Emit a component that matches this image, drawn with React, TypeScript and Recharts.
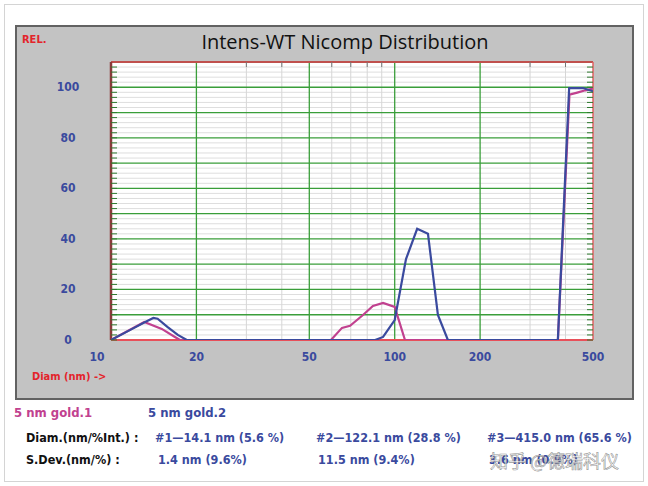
import { LineChart, Line, XAxis, YAxis, ReferenceLine, ReferenceArea } from "recharts";

// 5 nm gold.1 (magenta) — diameter (nm) / relative intensity
const gold1Diam = [10, 13.1, 15.1, 16.8, 17.5, 59.6, 65.2, 69.6, 77.3, 83.8, 91, 100, 108.7, 376, 413, 440, 470, 500];
const gold1Int = [0, 7.1, 4.4, 1.2, 0, 0, 4.8, 5.6, 9.9, 13.5, 14.7, 13.1, 0, 0, 97.1, 97.9, 98.8, 99.5];

// 5 nm gold.2 (blue)
const gold2Diam = [10, 11.7, 13.2, 14.1, 14.6, 15.8, 17.2, 18.5, 85.3, 91, 100, 109.6, 120, 131, 142, 154, 376, 412, 461, 500];
const gold2Int = [0, 4, 7.1, 8.7, 8.4, 5.2, 2, 0, 0, 1.2, 7.9, 32, 44, 42, 9.9, 0, 0, 99.7, 99.7, 98.4];

const xTicks = [10, 20, 30, 40, 50, 60, 70, 80, 90, 100, 200, 300, 400, 500];
const xLabels = [10, 20, 50, 100, 200, 500];
const xMajor = [20, 50, 100, 200];
const xMinor = [30, 40, 60, 70, 80, 90, 300, 400];
const yTicks = [0, 2, 4, 6, 8, 10, 12, 14, 16, 18, 20, 22, 24, 26, 28, 30, 32, 34, 36, 38, 40, 42, 44, 46, 48, 50, 52, 54, 56, 58, 60, 62, 64, 66, 68, 70, 72, 74, 76, 78, 80, 82, 84, 86, 88, 90, 92, 94, 96, 98, 100, 102, 104, 106, 108];
const yLabels = [0, 20, 40, 60, 80, 100];
const yMajor = [10, 20, 30, 40, 50, 60, 70, 80, 90, 100];

const sampleNames = ["5 nm gold.1", "5 nm gold.2"];
const diamRow = ["#1—14.1 nm (5.6 %)", "#2—122.1 nm (28.8 %)", "#3—415.0 nm (65.6 %)"];
const sdevRow = ["1.4 nm (9.6%)", "11.5 nm (9.4%)", "3.6 nm (0.9%)"];

const gold1 = gold1Diam.map((d, i) => ({ d, v: gold1Int[i] }));
const gold2 = gold2Diam.map((d, i) => ({ d, v: gold2Int[i] }));

const L = 111;
const R = 593;
const T = 62;
const B = 340;

const BLUE = "#3a4a9e";
const PINK = "#c1418f";
const RED = "#e3242b";
const GREEN = "#3a9e3a";
const narrow = "'Liberation Sans Narrow', 'DejaVu Sans Condensed', Arial, sans-serif";

function YTick(props: any) {
  const { y, payload } = props;
  const v = payload.value;
  return (
    <g>
      <line x1={L} x2={L + 6} y1={y} y2={y} stroke="#2f7a2f" strokeWidth={1} />
      <line x1={R - 6} x2={R} y1={y} y2={y} stroke="#2f7a2f" strokeWidth={1} />
      {yLabels.includes(v) && (
        <text x={68} y={y + 4} textAnchor="middle" fill={BLUE} fontFamily={narrow} fontWeight="bold" fontSize={12}>
          {v}
        </text>
      )}
    </g>
  );
}

function XTick(props: any) {
  const { x, payload } = props;
  const v = payload.value;
  return (
    <g>
      {xMinor.includes(v) && <line x1={x} x2={x} y1={T} y2={T + 5} stroke="#777" strokeWidth={1} />}
      {xLabels.includes(v) && (
        <text x={v === 10 ? x - 14 : x} y={B + 21} textAnchor="middle" fill={BLUE} fontFamily={narrow} fontWeight="bold" fontSize={12}>
          {v}
        </text>
      )}
    </g>
  );
}

const rowText = { position: "absolute" as const, fontFamily: narrow, fontWeight: "bold", fontSize: 12.5 };

export default function App() {
  return (
    <div style={{ position: "relative", width: 648, height: 486, background: "#fff", overflow: "hidden" }}>
      <style>{"body{margin:0}"}</style>
      <div style={{ position: "absolute", left: 4, top: 4, width: 638, height: 476, border: "1px solid #d4d4d4" }} />
      <div
        style={{
          position: "absolute",
          left: 15,
          top: 25,
          width: 615,
          height: 371,
          background: "#c3c3c3",
          border: "2px solid #626262",
        }}
      />
      <div style={{ position: "absolute", left: 22, top: 33, color: RED, fontFamily: narrow, fontWeight: "bold", fontSize: 11 }}>REL.</div>
      <div
        style={{
          position: "absolute",
          left: 145,
          width: 400,
          top: 28,
          textAlign: "center",
          fontFamily: "'Open Sans', sans-serif",
          fontWeight: 500,
          fontSize: 20,
          color: "#111",
        }}
      >
        Intens-WT Nicomp Distribution
      </div>
      <div style={{ position: "absolute", left: 32, top: 370, color: RED, fontFamily: narrow, fontWeight: "bold", fontSize: 11 }}>
        Diam (nm) -&gt;
      </div>

      <div style={{ position: "absolute", left: 0, top: 0 }}>
        <LineChart width={648} height={486} margin={{ top: T, right: 648 - R, bottom: 486 - B - 30, left: L - 60 }}>
          <ReferenceArea x1={10} x2={500} y1={0} y2={110} fill="#fff" fillOpacity={1} stroke="none" />
          {yTicks
            .filter((v) => v % 10 !== 0)
            .map((v) => (
              <ReferenceLine key={"ym" + v} y={v} stroke="#dedede" strokeWidth={1} />
            ))}
          {xMinor.map((v) => (
            <ReferenceLine key={"xm" + v} x={v} stroke="#d6d6d6" strokeWidth={1} />
          ))}
          {yMajor.map((v) => (
            <ReferenceLine key={"yM" + v} y={v} stroke={GREEN} strokeWidth={1.3} />
          ))}
          {xMajor.map((v) => (
            <ReferenceLine key={"xM" + v} x={v} stroke={GREEN} strokeWidth={1.3} />
          ))}
          <ReferenceLine y={110} stroke="#c0504d" strokeWidth={2} />
          <ReferenceLine y={0} stroke="#e8505a" strokeWidth={2} />
          <ReferenceLine x={10} stroke="#8a3b3b" strokeWidth={2.5} />
          <ReferenceLine x={500} stroke="#e06060" strokeWidth={1.5} />
          <XAxis
            dataKey="d"
            type="number"
            scale="log"
            domain={[10, 500]}
            ticks={xTicks}
            interval={0}
            allowDataOverflow
            axisLine={false}
            tickLine={false}
            height={30}
            tick={<XTick />}
          />
          <YAxis
            type="number"
            domain={[0, 110]}
            ticks={yTicks}
            interval={0}
            allowDataOverflow
            axisLine={false}
            tickLine={false}
            width={60}
            tick={<YTick />}
          />
          <Line data={gold1} dataKey="v" type="linear" stroke={PINK} strokeWidth={2.2} dot={false} isAnimationActive={false} />
          <Line data={gold2} dataKey="v" type="linear" stroke={BLUE} strokeWidth={2.2} dot={false} isAnimationActive={false} />
        </LineChart>
      </div>

      <div style={{ ...rowText, left: 14, top: 405, color: PINK, fontSize: 13 }}>{sampleNames[0]}</div>
      <div style={{ ...rowText, left: 148, top: 405, color: BLUE, fontSize: 13 }}>{sampleNames[1]}</div>
      <div style={{ ...rowText, left: 26, top: 430, color: "#111" }}>Diam.(nm/%Int.) :</div>
      <div style={{ ...rowText, left: 26, top: 452, color: "#111" }}>S.Dev.(nm/%) :</div>
      {diamRow.map((t, i) => (
        <div key={t} style={{ ...rowText, left: [155, 316, 487][i], top: 430, color: BLUE }}>
          {t}
        </div>
      ))}
      {sdevRow.map((t, i) => (
        <div key={t} style={{ ...rowText, left: [158, 318, 489][i], top: 452, color: BLUE }}>
          {t}
        </div>
      ))}
      <div
        style={{
          position: "absolute",
          left: 490,
          top: 447,
          fontFamily: "'Noto Sans CJK SC', sans-serif",
          fontSize: 18,
          color: "rgba(255,255,255,0.75)",
          WebkitTextStroke: "0.6px rgba(120,120,120,0.8)",
        }}
      >
        知乎 @德瑞科仪
      </div>
    </div>
  );
}
